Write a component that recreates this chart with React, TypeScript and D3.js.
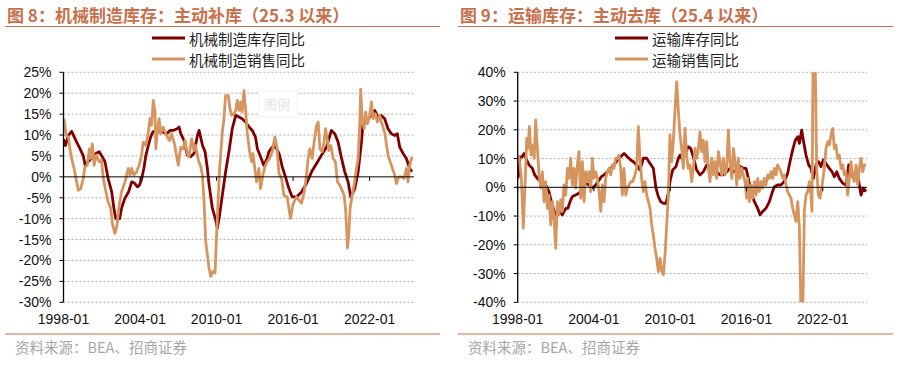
import React from "react";
import * as d3 from "d3";

// ---------- DATA ----------
const xTickYears = [1998, 2004, 2010, 2016, 2022];
const leftYTicks = [25, 20, 15, 10, 5, 0, -5, -10, -15, -20, -25, -30];
const rightYTicks = [40, 30, 20, 10, 0, -10, -20, -30, -40];

const leftTitle = "图 8：机械制造库存：主动补库（25.3 以来）";
const rightTitle = "图 9：运输库存：主动去库（25.4 以来）";
const leftLegend = ["机械制造库存同比", "机械制造销售同比"];
const rightLegend = ["运输库存同比", "运输销售同比"];
const sourceText = "资料来源：BEA、招商证券";

// [decimal year, yoy %]
const machInv: [number, number][] = [
  [1998.0, 9], [1998.15, 7.5], [1998.4, 10], [1998.64, 10.9], [1998.85, 9.5], [1999.03, 8.3], [1999.3, 6.7],
  [1999.55, 5], [1999.7, 2.8], [1999.9, 3.5], [2000.2, 4.5], [2000.5, 5.5], [2000.8, 6], [2001.0, 5],
  [2001.25, 3.6], [2001.5, -0.4], [2001.78, -3.6], [2001.95, -7.5], [2002.1, -10], [2002.4, -10],
  [2002.55, -7.5], [2002.8, -5.2], [2003.1, -3.6], [2003.35, -1.2], [2003.6, -1.6], [2003.8, -2.4],
  [2003.95, -2], [2004.1, -0.8], [2004.3, 2], [2004.45, 5], [2004.65, 7.5], [2004.83, 9.5], [2005.0, 10.7],
  [2005.3, 11.2], [2005.55, 10.7], [2005.8, 10.7], [2006.1, 10.3], [2006.35, 11.1], [2006.6, 11.1],
  [2006.9, 11.5], [2007.06, 11.9], [2007.2, 10.3], [2007.45, 8.7], [2007.7, 5.2], [2007.97, 4.8],
  [2008.23, 5.6], [2008.5, 9.9], [2008.63, 11.1], [2008.9, 7.5], [2009.1, 6], [2009.28, 2], [2009.4, -1.6],
  [2009.67, -7.5], [2009.93, -10.3], [2010.06, -12.3], [2010.2, -9.9], [2010.45, -4.4], [2010.71, 1.2],
  [2010.97, 6], [2011.23, 11.5], [2011.5, 14.7], [2011.76, 14.3], [2012.0, 13.9], [2012.28, 13.1],
  [2012.55, 11.9], [2012.8, 11.1], [2013.05, 9.5], [2013.2, 6.7], [2013.45, 4.8], [2013.7, 2.8],
  [2013.97, 4.4], [2014.1, 6], [2014.36, 7.1], [2014.62, 7.1], [2014.9, 5.6], [2015.15, 2.4], [2015.4, 0],
  [2015.67, -2.8], [2015.93, -4.8], [2016.27, -4.8], [2016.66, -3.6], [2017.05, -1.6], [2017.45, 1.2],
  [2017.84, 3.2], [2018.23, 5.2], [2018.62, 7.1], [2019.0, 11.1], [2019.27, 10.3], [2019.53, 8.3],
  [2019.8, 4.4], [2020.05, 1.2], [2020.31, -1.2], [2020.52, -4.8], [2020.84, -2.8], [2021.1, 1.2],
  [2021.36, 8.3], [2021.49, 13.1], [2021.75, 13.5], [2022.14, 14.7], [2022.4, 15.9], [2022.66, 14.3],
  [2022.92, 14.7], [2023.18, 13.9], [2023.44, 11.5], [2023.7, 10.3], [2023.97, 9.9], [2024.17, 10.3],
  [2024.36, 7.1], [2024.62, 5.6], [2024.88, 4.4], [2025.14, 2], [2025.32, 1.2],
];

const machSales: [number, number][] = [
  [1998.04, 13.9], [1998.2, 9.9], [1998.4, 9.5], [1998.5, 6.7], [1998.64, 4.4], [1998.83, 2], [1999.03, -1.2],
  [1999.16, -3.2], [1999.35, -2.8], [1999.55, -0.4], [1999.68, 2.4], [1999.87, 2.8], [2000.02, 6.7],
  [2000.13, 4.4], [2000.26, 7.9], [2000.33, 5.5], [2000.4, 2.8], [2000.58, 5.2], [2000.8, 3.6], [2000.98, 4],
  [2001.12, -0.4], [2001.33, -3.6], [2001.5, -6], [2001.7, -7.5], [2001.85, -11.5], [2002.03, -13.5],
  [2002.2, -11.5], [2002.37, -6.7], [2002.55, -3.6], [2002.82, -1.2], [2003.08, 2], [2003.21, 0.4],
  [2003.34, 2], [2003.52, 0.4], [2003.73, 1.2], [2003.93, 2.8], [2004.12, 5.2], [2004.25, 8.3],
  [2004.46, 7.5], [2004.65, 10.7], [2004.78, 13.9], [2004.9, 12.3], [2005.04, 18.3], [2005.17, 15.5],
  [2005.24, 6.7], [2005.37, 11.5], [2005.5, 13.9], [2005.6, 10.3], [2005.8, 11.9], [2006.08, 9.9],
  [2006.3, 8.7], [2006.47, 10.3], [2006.73, 7.5], [2006.9, 4.4], [2007.0, 2.8], [2007.19, 7.1],
  [2007.37, 6.7], [2007.53, 8.7], [2007.7, 5.6], [2007.84, 4.8], [2008.05, 9.1], [2008.23, 6.3],
  [2008.36, 7.5], [2008.57, 4], [2008.76, 2.4], [2008.89, 0.4], [2009.02, -6], [2009.15, -15.5],
  [2009.28, -18.7], [2009.41, -21.8], [2009.54, -23.8], [2009.72, -22.6], [2009.88, -23], [2009.98, -15.5],
  [2010.14, -4.4], [2010.24, 2], [2010.45, 10.7], [2010.58, 13.9], [2010.71, 19.4], [2010.92, 19.4],
  [2011.05, 16.3], [2011.18, 14.7], [2011.37, 15.1], [2011.5, 15.9], [2011.63, 18.3], [2011.76, 15.9],
  [2011.89, 17.9], [2012.0, 15.5], [2012.15, 20.6], [2012.28, 15.9], [2012.4, 10.7], [2012.59, 6],
  [2012.75, 3.6], [2012.85, 5.6], [2013.0, 2], [2013.14, -1.2], [2013.32, 2], [2013.45, -2.8],
  [2013.63, 0.4], [2013.79, 2.4], [2013.97, 3.6], [2014.15, 4.4], [2014.36, 6], [2014.57, 9.5],
  [2014.75, 6.7], [2014.89, 0.8], [2015.1, -0.4], [2015.28, -4.4], [2015.54, -4.8], [2015.67, -7.5],
  [2015.8, -9.9], [2015.98, -6.7], [2016.14, -5.6], [2016.27, -4.8], [2016.45, -5.5], [2016.66, -6.3],
  [2016.87, -3.6], [2017.05, 0.4], [2017.18, 4.4], [2017.31, 6.7], [2017.5, 4.4], [2017.65, 8.3],
  [2017.84, 12.3], [2017.97, 13.1], [2018.1, 6.7], [2018.28, 6], [2018.44, 8.7], [2018.54, 11.5],
  [2018.7, 8.7], [2018.8, 6.3], [2018.96, 7.5], [2019.14, 4.4], [2019.32, 3.6], [2019.48, -1.2],
  [2019.66, -2], [2019.84, -3.2], [2020.0, -4.4], [2020.13, -8.3], [2020.26, -17], [2020.37, -13.9],
  [2020.47, -7.5], [2020.63, -4.4], [2020.78, -2], [2020.97, 2], [2021.1, 4.4], [2021.23, 13.1],
  [2021.3, 21], [2021.41, 13.9], [2021.57, 11.5], [2021.68, 15.5], [2021.83, 12.7], [2022.0, 14.7],
  [2022.14, 17.9], [2022.27, 13.9], [2022.45, 15.1], [2022.61, 13.1], [2022.79, 14.7], [2022.92, 13.1],
  [2023.18, 10.7], [2023.44, 5.2], [2023.7, 2.8], [2023.97, 0.4], [2024.1, -1.6], [2024.28, 0],
  [2024.5, 0], [2024.7, -0.4], [2024.88, 2], [2025.01, -1.2], [2025.14, 2.8], [2025.32, 4.8],
];

const transInv: [number, number][] = [
  [1998.02, 3.1], [1998.1, 5.4], [1998.18, 10.6], [1998.35, 10.6], [1998.5, 11.8], [1998.71, 9.5],
  [1998.89, 7.8], [1999.15, 6.6], [1999.34, 4.3], [1999.55, 3.1], [1999.81, 2], [2000.07, 1.4],
  [2000.28, 0.2], [2000.46, -1.5], [2000.65, -5], [2000.8, -7.3], [2000.99, -9.6], [2001.25, -8.4],
  [2001.51, -9.6], [2001.78, -7.3], [2001.95, -7.3], [2002.12, -5], [2002.3, -3.2], [2002.56, -2.7],
  [2002.82, -2.1], [2003.09, -0.3], [2003.35, 1.4], [2003.61, 0.8], [2003.87, -0.3], [2004.14, 0.8],
  [2004.4, 2.5], [2004.58, 3.7], [2004.79, 4.3], [2005.05, 5.4], [2005.32, 6.6], [2005.58, 7.8],
  [2005.84, 9.5], [2006.1, 10.6], [2006.37, 11.8], [2006.63, 10.6], [2006.89, 9.5], [2007.1, 8.9],
  [2007.36, 7.8], [2007.62, 6], [2007.88, 10.1], [2008.15, 10.1], [2008.41, 8.3], [2008.67, 6.6],
  [2008.88, -0.3], [2009.06, -3.2], [2009.25, -5], [2009.46, -5.6], [2009.67, -5.6], [2009.85, -2.1],
  [2009.98, 2], [2010.19, 6], [2010.45, 7.2], [2010.64, 10.1], [2010.77, 11.2], [2010.98, 9.5],
  [2011.16, 11.8], [2011.42, 14.1], [2011.61, 13.5], [2011.82, 10.6], [2012.08, 6], [2012.34, 4.3],
  [2012.6, 5.4], [2012.87, 7.8], [2013.13, 7.2], [2013.39, 6.6], [2013.65, 5.4], [2013.92, 4.3],
  [2014.18, 4.3], [2014.44, 5.4], [2014.7, 6.6], [2014.97, 5.4], [2015.23, 6], [2015.49, 7.2],
  [2015.75, 6.6], [2015.96, 6.6], [2016.15, 3.1], [2016.35, -1.5], [2016.62, -5], [2016.88, -7.3],
  [2017.06, -9.6], [2017.27, -8.4], [2017.53, -7.3], [2017.8, -5], [2018.0, -2.1], [2018.19, 0.2],
  [2018.45, 0.8], [2018.71, 0.8], [2018.98, 2], [2019.24, 4.9], [2019.42, 8.9], [2019.63, 13],
  [2019.84, 16.4], [2020.03, 17.6], [2020.16, 15.3], [2020.34, 19.9], [2020.47, 16.4], [2020.68, 11.2],
  [2020.89, 7.8], [2021.07, 6.6], [2021.26, 3.1], [2021.47, 7.8], [2021.68, 8.9], [2021.86, 7.2],
  [2022.04, 9.5], [2022.25, 8.3], [2022.52, 6.6], [2022.73, 5.4], [2022.91, 3.7], [2023.1, 5.4],
  [2023.3, 3.1], [2023.57, 1.4], [2023.83, 0.8], [2024.04, 7.8], [2024.22, 6.6], [2024.4, 3.1],
  [2024.62, 5.4], [2024.83, 2], [2025.01, -2.7], [2025.19, -0.3], [2025.4, -1.5],
];

const transSales: [number, number][] = [
  [1998.0, 8], [1998.1, 10.6], [1998.29, 3.1], [1998.44, -14.2], [1998.55, -2.7], [1998.71, 17],
  [1998.82, 13.5], [1998.92, 21.1], [1999.05, 11.2], [1999.18, 14.7], [1999.3, 10.1], [1999.41, 23.4],
  [1999.55, 13.5], [1999.68, 4.3], [1999.81, -0.3], [1999.94, 5.4], [2000.07, -5], [2000.2, 2],
  [2000.33, -7.3], [2000.46, -2.7], [2000.6, -13.1], [2000.73, -5], [2000.86, -10.8], [2000.99, -21.2],
  [2001.12, -5], [2001.25, -9.6], [2001.38, -4.4], [2001.51, -8.4], [2001.64, 0.8], [2001.78, -2.7],
  [2001.91, 6.6], [2002.04, 3.1], [2002.17, 10.1], [2002.3, 0.8], [2002.43, 6.6], [2002.56, -0.3],
  [2002.69, 7.8], [2002.82, 12.4], [2002.96, -3.8], [2003.09, 8.9], [2003.22, -5], [2003.35, 5.4],
  [2003.48, 2], [2003.61, 5.4], [2003.74, -1.5], [2003.87, 10.1], [2004.0, 3.1], [2004.14, 5.4],
  [2004.27, 3.1], [2004.4, -1.5], [2004.53, -8.4], [2004.66, 0.8], [2004.79, -5], [2004.92, 3.1],
  [2005.05, 5.4], [2005.18, 6.6], [2005.32, 4.3], [2005.45, 7.8], [2005.58, 6.6], [2005.71, 10.1],
  [2005.84, 10.1], [2005.97, 11.2], [2006.1, 6.6], [2006.23, -2.7], [2006.36, 6.6], [2006.5, -2.7],
  [2006.63, -0.3], [2006.76, 0.8], [2006.9, 2], [2007.05, 2], [2007.23, 4.3], [2007.36, 6.6],
  [2007.49, 21.1], [2007.62, 10.1], [2007.75, 3.1], [2007.88, -1.5], [2008.01, 2], [2008.15, -2.7],
  [2008.28, -5], [2008.41, -7.3], [2008.54, -13.1], [2008.67, -16.6], [2008.8, -21.2], [2008.93, -24.7],
  [2009.06, -29.3], [2009.2, -24.7], [2009.33, -29.3], [2009.46, -30.4], [2009.59, -23.5],
  [2009.72, -13.1], [2009.85, -2.7], [2009.98, 18.2], [2010.11, 8.9], [2010.24, 15.9], [2010.38, 27.4],
  [2010.51, 36.7], [2010.64, 26.3], [2010.77, 18.2], [2010.9, 13.5], [2011.03, 6.6], [2011.16, 20.5],
  [2011.29, 11.2], [2011.42, 6.6], [2011.56, 7.8], [2011.69, 2], [2011.82, 6.6], [2011.95, 13.5],
  [2012.08, 10.1], [2012.21, 13.5], [2012.34, 19.3], [2012.47, 12.4], [2012.6, 16.4], [2012.73, 8.9],
  [2012.87, 15.9], [2013.0, 6.6], [2013.13, 2], [2013.26, 10.1], [2013.39, 4.3], [2013.52, 8.9],
  [2013.65, 3.1], [2013.79, 12.4], [2013.92, 8.9], [2014.05, 4.3], [2014.18, 10.1], [2014.31, 4.3],
  [2014.44, 6.6], [2014.57, 19.9], [2014.7, 8.9], [2014.84, 3.1], [2014.97, 13.5], [2015.1, 8.9],
  [2015.23, 0.8], [2015.36, 10.1], [2015.49, 3.1], [2015.62, 6.6], [2015.75, 4.3], [2015.88, 2],
  [2016.01, -3.8], [2016.09, 3.1], [2016.22, -5], [2016.35, 0.8], [2016.48, -3.8], [2016.62, 2],
  [2016.75, -2.7], [2016.88, 3.1], [2017.01, -1.5], [2017.14, 2], [2017.27, -0.3], [2017.4, 3.1],
  [2017.53, 0.8], [2017.67, 4.3], [2017.8, 3.1], [2017.93, 5.4], [2018.06, 3.1], [2018.19, 6.6],
  [2018.32, 4.3], [2018.45, 7.8], [2018.58, 6.6], [2018.71, 5.4], [2018.85, 3.1], [2018.98, 4.3],
  [2019.11, 0.8], [2019.24, -1.5], [2019.37, -2.7], [2019.5, -3.8], [2019.63, -7.3], [2019.76, -9.6],
  [2019.89, -11.9], [2020.03, -5], [2020.16, -14.2], [2020.29, -45], [2020.42, -45], [2020.55, -8.4],
  [2020.68, -2.7], [2020.81, -1.5], [2020.94, 2], [2021.07, -2.7], [2021.15, -8.4], [2021.26, 60],
  [2021.4, 45], [2021.52, 6.6], [2021.65, -2.7], [2021.78, -3.8], [2021.95, 0.8], [2022.12, 6.6],
  [2022.25, 13.5], [2022.39, 15.9], [2022.52, 14.7], [2022.65, 18.2], [2022.78, 20.5], [2022.91, 13.5],
  [2023.04, 14.7], [2023.17, 10.1], [2023.3, 11.2], [2023.44, 6.6], [2023.57, 7.8], [2023.7, 4.3],
  [2023.83, 5.4], [2023.96, -2.7], [2024.09, 3.1], [2024.22, 8.9], [2024.35, 4.3], [2024.48, 2],
  [2024.62, 7.8], [2024.75, 0.8], [2024.88, 6.6], [2025.01, 10.1], [2025.14, 5.4], [2025.27, 7.8],
  [2025.4, 7.8],
];

// ---------- STYLE ----------
const W = 899;
const H = 369;
const INV_COLOR = "#800000";
const SALES_COLOR = "#D6955E";
const ACCENT = "#C96F4A";
const CJK = "'Noto Sans CJK SC', 'Noto Sans', sans-serif";
const LATIN = "'Liberation Sans', Arial, sans-serif";

type PanelProps = {
  id: string;
  x0: number;
  x1: number;
  ruleX0: number;
  ruleX1: number;
  titleX: number;
  legendX: number;
  title: string;
  legend: string[];
  yTicks: number[];
  inv: [number, number][];
  sales: [number, number][];
  watermark?: { x: number; y: number };
};

const Panel: React.FC<PanelProps> = (p) => {
  const top = 72.3;
  const bottom = 302.3;
  const x = d3.scaleLinear().domain([1998.0, 2025.4]).range([p.x0, p.x1]);
  const y = d3
    .scaleLinear()
    .domain([d3.min(p.yTicks) as number, d3.max(p.yTicks) as number])
    .range([bottom, top]);
  const line = d3
    .line<[number, number]>()
    .x((d) => x(d[0]))
    .y((d) => y(d[1]));
  const gridRight = p.x1 + 1;
  const y0 = y(0);

  return (
    <g>
      <defs>
        <clipPath id={`clip-${p.id}`}>
          <rect x={p.x0} y={top} width={gridRight - p.x0 + 2} height={bottom - top} />
        </clipPath>
      </defs>
      {/* title */}
      <text
        x={p.titleX}
        y={14}
        dominantBaseline="central"
        fontFamily={CJK}
        fontWeight={700}
        fontSize={17}
        fill={ACCENT}
      >
        {p.title}
      </text>
      <line x1={p.ruleX0} x2={p.ruleX1} y1={26.5} y2={26.5} stroke={ACCENT} strokeWidth={1.2} />

      {/* legend */}
      {p.legend.map((lab, i) => (
        <g key={lab}>
          <line
            x1={p.legendX}
            x2={p.legendX + 33}
            y1={38 + i * 21}
            y2={38 + i * 21}
            stroke={i === 0 ? INV_COLOR : SALES_COLOR}
            strokeWidth={3}
          />
          <text
            x={p.legendX + 37}
            y={38 + i * 21}
            dominantBaseline="central"
            fontFamily={CJK}
            fontSize={14.5}
            fill="#222"
          >
            {lab}
          </text>
        </g>
      ))}

      {/* grid */}
      {p.yTicks.map((t) =>
        t === 0 ? null : (
          <line
            key={`g${t}`}
            x1={p.x0}
            x2={gridRight}
            y1={y(t)}
            y2={y(t)}
            stroke="#9a9a9a"
            strokeWidth={0.8}
            strokeDasharray="2,2"
          />
        )
      )}
      {/* y labels + ticks */}
      {p.yTicks.map((t) => (
        <g key={`y${t}`}>
          <line x1={p.x0 - 4} x2={p.x0} y1={y(t)} y2={y(t)} stroke="#000" strokeWidth={1} />
          <text
            x={p.x0 - 12}
            y={y(t)}
            textAnchor="end"
            dominantBaseline="central"
            fontFamily={LATIN}
            fontSize={14}
            fill="#111"
          >
            {`${t}%`}
          </text>
        </g>
      ))}

      {p.watermark && (
        <g>
          <rect
            x={p.watermark.x - 18}
            y={p.watermark.y - 12}
            width={38}
            height={26}
            fill="#fff"
            stroke="#f2f2f2"
            strokeWidth={1}
          />
          <text
            x={p.watermark.x}
            y={p.watermark.y}
            textAnchor="middle"
            dominantBaseline="central"
            fontFamily={CJK}
            fontSize={13}
            fill="#e4e4e4"
          >
            图例
          </text>
        </g>
      )}

      {/* series */}
      <g clipPath={`url(#clip-${p.id})`}>
        <path d={line(p.inv) || ""} fill="none" stroke={INV_COLOR} strokeWidth={2.8} strokeLinejoin="round" />
        <path d={line(p.sales) || ""} fill="none" stroke={SALES_COLOR} strokeWidth={2.8} strokeLinejoin="round" />
      </g>

      {/* zero axis */}
      <line x1={p.x0} x2={gridRight} y1={y0} y2={y0} stroke="#000" strokeWidth={1} />
      {xTickYears.map((yr) => (
        <g key={`x${yr}`}>
          <line x1={x(yr)} x2={x(yr)} y1={y0} y2={y0 + 4} stroke="#000" strokeWidth={1} />
          <text
            x={x(yr)}
            y={319}
            textAnchor="middle"
            dominantBaseline="central"
            fontFamily={LATIN}
            fontSize={14}
            fill="#111"
          >
            {`${yr}-01`}
          </text>
        </g>
      ))}
      {/* y axis */}
      <line x1={p.x0} x2={p.x0} y1={top} y2={bottom} stroke="#000" strokeWidth={1.3} />

      {/* footer */}
      <line x1={p.ruleX0} x2={p.ruleX1} y1={334} y2={334} stroke={ACCENT} strokeWidth={1.2} />
      <text
        x={p.ruleX0 + 10}
        y={346}
        dominantBaseline="central"
        fontFamily={CJK}
        fontSize={14.5}
        fill="#a6a6a6"
      >
        {sourceText}
      </text>
    </g>
  );
};

export default function App() {
  return (
    <svg
      width={W}
      height={H}
      style={{ position: "absolute", left: 0, top: 0, background: "#fff" }}
    >
      <rect x={0} y={0} width={W} height={H} fill="#fff" />
      <Panel
        id="left"
        x0={63.5}
        x1={413}
        ruleX0={5}
        ruleX1={440}
        titleX={7}
        legendX={152}
        title={leftTitle}
        legend={leftLegend}
        yTicks={leftYTicks}
        inv={machInv}
        sales={machSales}
        watermark={{ x: 277, y: 103 }}
      />
      <Panel
        id="right"
        x0={517.7}
        x1={866}
        ruleX0={458}
        ruleX1={893}
        titleX={460}
        legendX={615}
        title={rightTitle}
        legend={rightLegend}
        yTicks={rightYTicks}
        inv={transInv}
        sales={transSales}
      />
    </svg>
  );
}
